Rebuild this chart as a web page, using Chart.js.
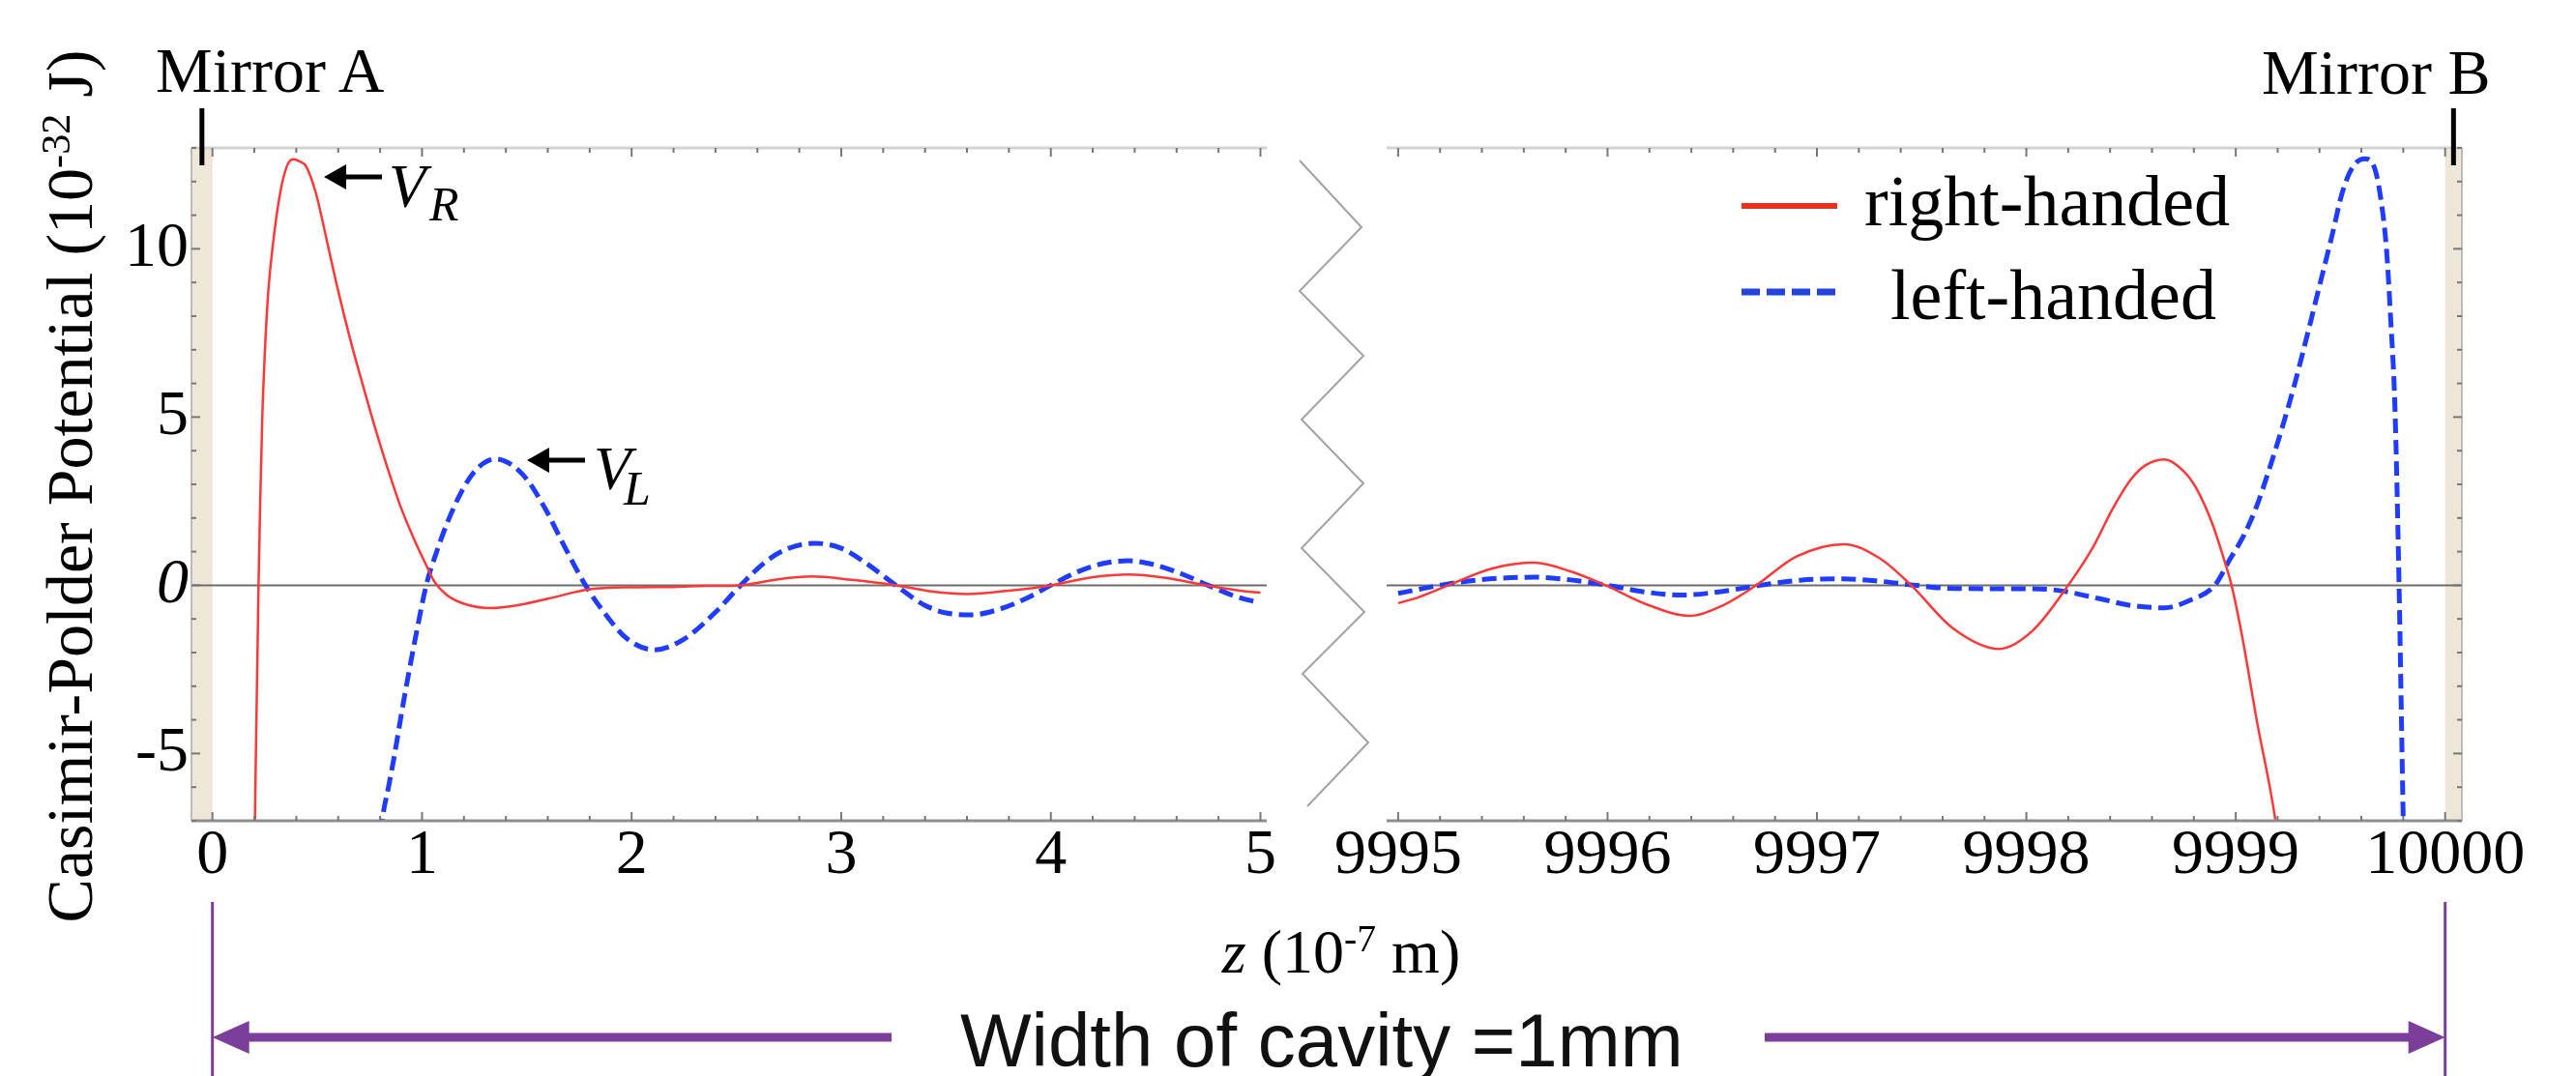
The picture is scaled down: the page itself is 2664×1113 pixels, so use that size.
<!DOCTYPE html>
<html>
<head>
<meta charset="utf-8">
<script src="https://cdn.jsdelivr.net/npm/chart.js@4.4.1/dist/chart.umd.min.js"></script>
<style>
  html, body { margin: 0; padding: 0; background: #fff; overflow: hidden; }
  #fig { position: relative; width: 2664px; height: 1113px; overflow: hidden;
         font-family: 'Liberation Serif', 'Times New Roman', serif; color: #000; }
  #fig canvas { position: absolute; top: 0; }
  .t { position: absolute; white-space: nowrap; line-height: 1; }
  .sup { font-size: 0.62em; position: relative; top: -0.55em; }
  .it { font-style: italic; }
</style>
</head>
<body>
<div id="fig">
  <canvas id="near" width="1340" height="1113" style="left:0;width:1340px;height:1113px"></canvas>
  <canvas id="far" width="1324" height="1113" style="left:1340px;width:1324px;height:1113px"></canvas>
  <svg id="deco" width="2664" height="1113" style="position:absolute;left:0;top:0"></svg>

  <div class="t" id="ytitle" style="left:72px;top:503px;font-size:68px;transform:translate(-50%,-50%) rotate(-90deg)">Casimir-Polder Potential (10<span class="sup">-32</span> J)</div>
  <div class="t" style="left:1187px;width:400px;top:953px;font-size:64px;text-align:center"><span class="it">z</span> (10<span class="sup">-7</span> m)</div>

  <div class="t" style="left:161px;top:40px;font-size:66px">Mirror A</div>
  <div class="t" style="left:2339px;top:42px;font-size:66px">Mirror B</div>

  <div class="t" style="left:1928px;top:171px;font-size:74px">right-handed</div>
  <div class="t" style="left:1955px;top:268px;font-size:74px">left-handed</div>

  <div class="t it" style="left:402px;top:162px;font-size:63px">V</div>
  <div class="t it" style="left:444px;top:186px;font-size:50px">R</div>
  <div class="t it" style="left:614px;top:454px;font-size:63px">V</div>
  <div class="t it" style="left:645px;top:480px;font-size:50px">L</div>

  <div class="t" style="left:993px;top:1037px;font-size:78px;font-family:'Liberation Sans',Arial,sans-serif;color:#111">Width of cavity =1mm</div>
</div>

<script>
// tick labels
const yTicks = [-5, 0, 5, 10];
const nearTicks = [0, 1, 2, 3, 4, 5];
const farTicks = [9995, 9996, 9997, 9998, 9999, 10000];

// mirror A side, z in 1e-7 m, V in 1e-32 J
const nearZ_R = [0.200, 0.205, 0.210, 0.215, 0.220, 0.228, 0.238, 0.250, 0.265, 0.290,
                 0.323, 0.355, 0.385, 0.415, 0.447, 0.494, 0.545, 0.600, 0.660, 0.720,
                 0.780, 0.840, 0.900, 0.960, 1.020, 1.060, 1.120, 1.200, 1.330, 1.450,
                 1.600, 1.800, 2.000, 2.200, 2.350, 2.520, 2.700, 2.860, 3.050, 3.260,
                 3.450, 3.600, 3.800, 4.000, 4.200, 4.370, 4.550, 4.740, 4.900, 5.000];
const nearV_R = [-8.5, -6.0, -4.0, -2.0, 0.0, 2.5, 5.0, 6.9, 8.6, 10.2,
                 11.65, 12.45, 12.66, 12.6, 12.45, 11.65, 10.27, 8.75, 7.25, 5.9,
                 4.6, 3.4, 2.3, 1.4, 0.6, 0.1, -0.3, -0.55, -0.68, -0.6,
                 -0.4, -0.12, -0.06, -0.05, -0.02, 0.0, 0.18, 0.26, 0.16, 0.0,
                 -0.2, -0.26, -0.16, 0.0, 0.24, 0.32, 0.22, 0.0, -0.16, -0.22];

const nearZ_L = [0.795, 0.810, 0.840, 0.870, 0.905, 0.940, 0.980, 1.020, 1.070, 1.120,
                 1.190, 1.260, 1.350, 1.430, 1.500, 1.590, 1.680, 1.780, 1.880, 1.980,
                 2.110, 2.250, 2.400, 2.520, 2.650, 2.750, 2.875, 3.000, 3.120, 3.260,
                 3.400, 3.500, 3.620, 3.750, 3.880, 4.000, 4.120, 4.250, 4.370, 4.500,
                 4.620, 4.750, 4.880, 4.980];
const nearV_L = [-8.0, -7.0, -6.0, -5.0, -3.7, -2.5, -1.2, 0.0, 1.0, 1.85,
                 2.8, 3.45, 3.75, 3.57, 3.15, 2.25, 1.15, 0.0, -0.9, -1.6,
                 -1.92, -1.6, -0.8, 0.0, 0.75, 1.1, 1.25, 1.1, 0.65, 0.0,
                 -0.6, -0.82, -0.88, -0.72, -0.4, 0.0, 0.38, 0.65, 0.73, 0.6,
                 0.35, 0.0, -0.33, -0.5];

// mirror B side
const farZ_R = [9995.00, 9995.10, 9995.24, 9995.45, 9995.65, 9995.82, 9995.99, 9996.20, 9996.39, 9996.55,
                9996.71, 9996.90, 9997.13, 9997.30, 9997.45, 9997.65, 9997.87, 9998.03, 9998.20, 9998.32,
                9998.41, 9998.50, 9998.57, 9998.66, 9998.75, 9998.81, 9998.89, 9998.94, 9998.98, 9999.03,
                9999.10, 9999.19, 9999.21];
const farV_R = [-0.53, -0.35, 0.0, 0.5, 0.67, 0.42, 0.0, -0.6, -0.91, -0.6,
                0.0, 0.85, 1.22, 0.8, 0.0, -1.28, -1.89, -1.35, 0.0, 1.15,
                2.25, 3.15, 3.57, 3.74, 3.4, 2.9, 1.8, 0.85, 0.0, -1.5,
                -4.0, -7.0, -8.0];

const farZ_L = [9995.00, 9995.10, 9995.20, 9995.40, 9995.65, 9995.85, 9996.00, 9996.18, 9996.36, 9996.55,
                9996.73, 9996.92, 9997.12, 9997.30, 9997.47, 9997.60, 9997.80, 9998.00, 9998.15, 9998.35,
                9998.50, 9998.66, 9998.78, 9998.90, 9998.97, 9999.04, 9999.10, 9999.16, 9999.22, 9999.28,
                9999.34, 9999.40, 9999.46, 9999.51, 9999.56, 9999.615, 9999.66, 9999.69, 9999.72, 9999.74,
                9999.76, 9999.78, 9999.79, 9999.80, 9999.805];
const farV_L = [-0.24, -0.12, 0.0, 0.17, 0.24, 0.14, 0.0, -0.2, -0.29, -0.18,
                0.0, 0.15, 0.19, 0.12, 0.0, -0.08, -0.1, -0.1, -0.15, -0.4,
                -0.6, -0.67, -0.45, 0.0, 0.75, 1.5, 2.35, 3.45, 4.65, 5.95,
                7.4, 8.9, 10.4, 11.7, 12.45, 12.68, 12.45, 11.6, 9.98, 7.9,
                5.33, 0.0, -3.5, -7.0, -8.5];

const mirrorA = 0, mirrorB = 10000;
const serif = "'Liberation Serif', 'Times New Roman', serif";

Chart.defaults.font.family = serif;
Chart.defaults.color = '#000';

function pts(zs, vs) {
    return zs.map((z, i) => ({x: z, y: vs[i]}));
}

function seg(ctx, x1, y1, x2, y2, color, w) {
    ctx.strokeStyle = color;
    ctx.lineWidth = w;
    ctx.beginPath();
    ctx.moveTo(x1, y1);
    ctx.lineTo(x2, y2);
    ctx.stroke();
}

// Mathematica-like frame: beige mirror strip, zero line, inward ticks
function framePlugin(side, xTicks) {
    const near = side === 'near';
    return {
        id: 'frame_' + side,
        beforeDatasetsDraw(chart) {
            const {ctx, chartArea: a, scales: {x, y}} = chart;
            const m0 = x.getPixelForValue(near ? x.min : mirrorB);
            const m1 = x.getPixelForValue(near ? mirrorA : x.max);
            ctx.save();
            ctx.fillStyle = '#eee7d8';
            ctx.fillRect(m0, a.top, m1 - m0, a.bottom - a.top);
            const y0 = y.getPixelForValue(0);
            seg(ctx, a.left, y0, a.right, y0, '#6e6e6e', 2);
            ctx.restore();
        },
        afterDatasetsDraw(chart) {
            const {ctx, chartArea: a, scales: {x, y}} = chart;
            ctx.save();
            seg(ctx, a.left, a.top, a.right, a.top, '#d2d2d2', 3);
            seg(ctx, a.left, a.bottom, a.right, a.bottom, '#8e8e8e', 3);
            const ex = near ? a.left : a.right;
            seg(ctx, ex, a.top, ex, a.bottom, '#bcbcbc', 2);
            for (let i = 0; i <= 25; i++) {
                const px = x.getPixelForValue(xTicks[0] + i * 0.2);
                const len = i % 5 === 0 ? 9 : 5;
                seg(ctx, px, a.top, px, a.top + len, '#777', 2);
                seg(ctx, px, a.bottom, px, a.bottom - len, '#777', 2);
            }
            const dir = near ? 1 : -1;
            for (let v = -7; v <= 13; v++) {
                const py = y.getPixelForValue(v);
                const len = v % 5 === 0 ? 9 : 5;
                seg(ctx, ex, py, ex + dir * len, py, '#777', 2);
            }
            // mirror marker
            const m0 = x.getPixelForValue(near ? x.min : mirrorB);
            const m1 = x.getPixelForValue(near ? mirrorA : x.max);
            const mc = (m0 + m1) / 2;
            seg(ctx, mc, a.top - 41, mc, a.top + 18, '#000', 5);
            ctx.restore();
        }
    };
}

function makeChart(id, side, datasets, xMin, xMax, xTicks, padding) {
    const near = side === 'near';
    const yScale = {
        type: 'linear',
        min: -7,
        max: 13,
        display: near,
        grid: {display: false, drawTicks: false},
        border: {display: false},
        afterBuildTicks: s => { s.ticks = yTicks.map(v => ({value: v})); },
        ticks: {
            padding: 3,
            color: '#000',
            font: c => ({family: serif, size: 66, lineHeight: 1,
                         style: c.tick && c.tick.value === 0 ? 'italic' : 'normal'}),
            callback: v => String(v)
        }
    };
    if (near) {
        yScale.afterFit = s => { s.width = 198; };
    }
    return new Chart(document.getElementById(id), {
        type: 'line',
        data: {datasets: datasets},
        options: {
            responsive: false,
            animation: false,
            devicePixelRatio: 1,
            events: [],
            layout: {padding: padding},
            plugins: {legend: {display: false}, tooltip: {enabled: false}},
            scales: {
                x: {
                    type: 'linear',
                    min: xMin,
                    max: xMax,
                    grid: {display: false, drawTicks: false},
                    border: {display: false},
                    afterBuildTicks: s => { s.ticks = xTicks.map(v => ({value: v})); },
                    afterFit: s => { s.height = 80; },
                    ticks: {
                        autoSkip: false,
                        maxRotation: 0,
                        padding: 4,
                        color: '#000',
                        font: {family: serif, size: 66, lineHeight: 1},
                        callback: v => String(v)
                    }
                },
                y: yScale
            }
        },
        plugins: [framePlugin(side, xTicks)]
    });
}

function curves(zR, vR, zL, vL) {
    return [
        {
            label: 'right-handed',
            data: pts(zR, vR),
            borderColor: '#ff3838',
            borderWidth: 2.5,
            pointRadius: 0,
            cubicInterpolationMode: 'monotone',
            fill: false
        },
        {
            label: 'left-handed',
            data: pts(zL, vL),
            borderColor: '#1f3cff',
            borderWidth: 5,
            borderDash: [15, 7],
            pointRadius: 0,
            cubicInterpolationMode: 'monotone',
            fill: false
        }
    ];
}

const nearChart = makeChart('near', 'near', curves(nearZ_R, nearV_R, nearZ_L, nearV_L),
    -0.1, 5.03, nearTicks, {left: 0, top: 153, right: 30, bottom: 184});
const farChart = makeChart('far', 'far', curves(farZ_R, farV_R, farZ_L, farV_L),
    9994.945, 10000.08, farTicks, {left: 94, top: 153, right: 118, bottom: 184});

// decorations: axis break, annotation arrows, legend keys, cavity width
const pA = nearChart.scales.x.getPixelForValue(mirrorA);
const pB = 1340 + farChart.scales.x.getPixelForValue(mirrorB);
const purple = '#7b3f9b';
document.getElementById('deco').innerHTML = `
  <polyline points="1344,166 1408,235 1344,301 1410,368 1346,434 1410,500 1346,567 1411,633 1347,697 1415,768 1352,834"
            fill="none" stroke="#a2a2a2" stroke-width="2"/>
  <line x1="356" y1="183" x2="395" y2="183" stroke="#000" stroke-width="5"/>
  <polygon points="335,183 358,170 358,196" fill="#000"/>
  <line x1="566" y1="476" x2="605" y2="476" stroke="#000" stroke-width="5"/>
  <polygon points="545,476 568,463 568,489" fill="#000"/>
  <line x1="1801" y1="213" x2="1900" y2="213" stroke="#e8321e" stroke-width="6"/>
  <line x1="1801" y1="302" x2="1900" y2="302" stroke="#2244dd" stroke-width="7" stroke-dasharray="19 7"/>
  <line x1="${pA}" y1="933" x2="${pA}" y2="1113" stroke="${purple}" stroke-width="3"/>
  <line x1="${pB}" y1="933" x2="${pB}" y2="1113" stroke="${purple}" stroke-width="3"/>
  <line x1="${pA + 30}" y1="1073" x2="922" y2="1073" stroke="${purple}" stroke-width="9"/>
  <polygon points="${pA},1073 ${pA + 38},1056 ${pA + 38},1090" fill="${purple}"/>
  <line x1="1825" y1="1073" x2="${pB - 30}" y2="1073" stroke="${purple}" stroke-width="9"/>
  <polygon points="${pB},1073 ${pB - 38},1056 ${pB - 38},1090" fill="${purple}"/>
`;
console.log('near area', JSON.stringify(nearChart.chartArea), 'far area', JSON.stringify(farChart.chartArea));
</script>
</body>
</html>
